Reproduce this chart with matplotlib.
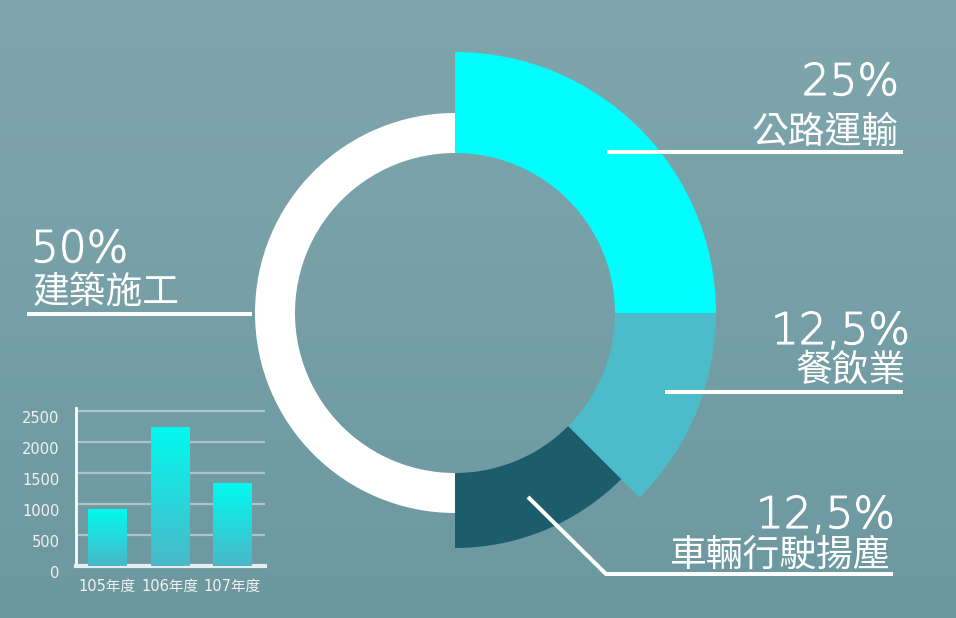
import numpy as np
import matplotlib
matplotlib.use("Agg")
import matplotlib.pyplot as plt
from matplotlib.patches import Wedge
from matplotlib.transforms import ScaledTranslation
import matplotlib.patheffects as pe

plt.rcParams['font.family'] = ['DejaVu Sans', 'Noto Sans CJK TC']

# ---- data ----
categories = ['公路運輸', '餐飲業', '車輛行駛揚塵', '建築施工']
shares = [25, 12.5, 12.5, 50]
share_labels = ['25%', '12,5%', '12,5%', '50%']
seg_colors = ['#00FEFE', '#4DBCCA', '#1C5D6C', '#FFFFFF']
seg_radius = [261, 261, 235, 200]

years = ['105年度', '106年度', '107年度']
year_values = [920, 2250, 1340]
yticks = [0, 500, 1000, 1500, 2000, 2500]

W, H = 956, 618
fig = plt.figure(figsize=(W / 100, H / 100), dpi=100)
ax = fig.add_axes([0, 0, 1, 1])
ax.set_xlim(0, W)
ax.set_ylim(H, 0)
ax.axis('off')

# background gradient
top = np.array([128, 166, 173]) / 255
bot = np.array([108, 152, 160]) / 255
t = np.linspace(0, 1, 256)[:, None, None]
grad = top * (1 - t) + bot * t
grad = np.repeat(grad, 2, axis=1)
ax.imshow(grad, extent=(0, W, H, 0), aspect='auto', zorder=0, interpolation='bilinear')

# donut
cx, cy = 455, 313
inner = 160
total = sum(shares)
start = 90.0
for val, col, r in zip(shares, seg_colors, seg_radius):
    sweep = 360.0 * val / total
    th1 = -start
    th2 = -start + sweep
    w = Wedge((cx, cy), r, th1, th2, width=r - inner, facecolor=col, edgecolor='none', zorder=2)
    ax.add_patch(w)
    start -= sweep

# annotations
lw = 2.9
pct_kw = dict(color='white', zorder=5, fontsize=31.5, family=['DejaVu Sans'], weight='light',
              path_effects=[pe.withStroke(linewidth=0.8, foreground='white')])
cat_kw = dict(color='white', zorder=5, fontsize=26.5, family=['Noto Sans CJK TC', 'DejaVu Sans'],
              weight='light')

# 公路運輸
ax.plot([607, 903], [152, 152], color='white', lw=lw, solid_capstyle='butt', zorder=4)
ax.text(899, 95, share_labels[0], ha='right', va='baseline', **pct_kw)
ax.text(899, 143, categories[0], ha='right', va='baseline', **cat_kw)

# 餐飲業
ax.plot([665, 903], [392, 392], color='white', lw=lw, solid_capstyle='butt', zorder=4)
ax.text(910, 344, share_labels[1], ha='right', va='baseline', **pct_kw)
ax.text(906, 381, categories[1], ha='right', va='baseline', **cat_kw)

# 車輛行駛揚塵
ax.plot([528, 606, 893], [497, 574, 574], color='white', lw=lw, solid_capstyle='butt', zorder=4)
ax.text(895, 528, share_labels[2], ha='right', va='baseline', **pct_kw)
ax.text(890, 566, categories[2], ha='right', va='baseline', **cat_kw)

# 建築施工
ax.plot([27, 252], [314, 314], color='white', lw=lw, solid_capstyle='butt', zorder=4)
ax.text(31, 262, share_labels[3], ha='left', va='baseline', **pct_kw)
ax.text(33, 303, categories[3], ha='left', va='baseline', **cat_kw)

# inset bar chart
l, r_, b, tp = 76, 265, 566, 408
iax = fig.add_axes([l / W, (H - b) / H, (r_ - l) / W, (b - tp) / H])
iax.patch.set_alpha(0)
x = np.arange(len(years))
bars = iax.bar(x, year_values, width=0.61, color='none', edgecolor='none', zorder=3)
gtop = np.array([0, 250, 240]) / 255
gbot = np.array([74, 184, 200]) / 255
tt = np.linspace(0, 1, 256)[:, None, None]
bgrad = gtop * (1 - tt) + gbot * tt
bgrad = np.repeat(bgrad, 2, axis=1)
for bar in bars:
    bx, bw, bh = bar.get_x(), bar.get_width(), bar.get_height()
    im = iax.imshow(bgrad, extent=(bx, bx + bw, 0, bh), aspect='auto', zorder=3,
                    interpolation='bilinear')
    im.set_clip_path(bar)
iax.set_xlim(-0.5, 2.53)
iax.set_ylim(0, 2550)
iax.set_yticks(yticks)
iax.set_yticklabels([str(v) for v in yticks])
iax.set_xticks(x)
iax.set_xticklabels(years)
iax.tick_params(length=0, colors='#f2f2f2', labelsize=10.5)
iax.tick_params(axis='y', pad=12)
iax.tick_params(axis='x', pad=9)
for lab in iax.get_yticklabels():
    lab.set_transform(lab.get_transform() + ScaledTranslation(0, -0.06, fig.dpi_scale_trans))
for yv in yticks[1:]:
    iax.axhline(yv, color='#c8d8da', lw=1.6, alpha=0.7, zorder=1)
for s in ['top', 'right']:
    iax.spines[s].set_visible(False)
iax.spines['left'].set_color('white')
iax.spines['left'].set_linewidth(2)
iax.spines['bottom'].set_color('#e8eef0')
iax.spines['bottom'].set_linewidth(3)

fig.savefig('out.png', dpi=100)
